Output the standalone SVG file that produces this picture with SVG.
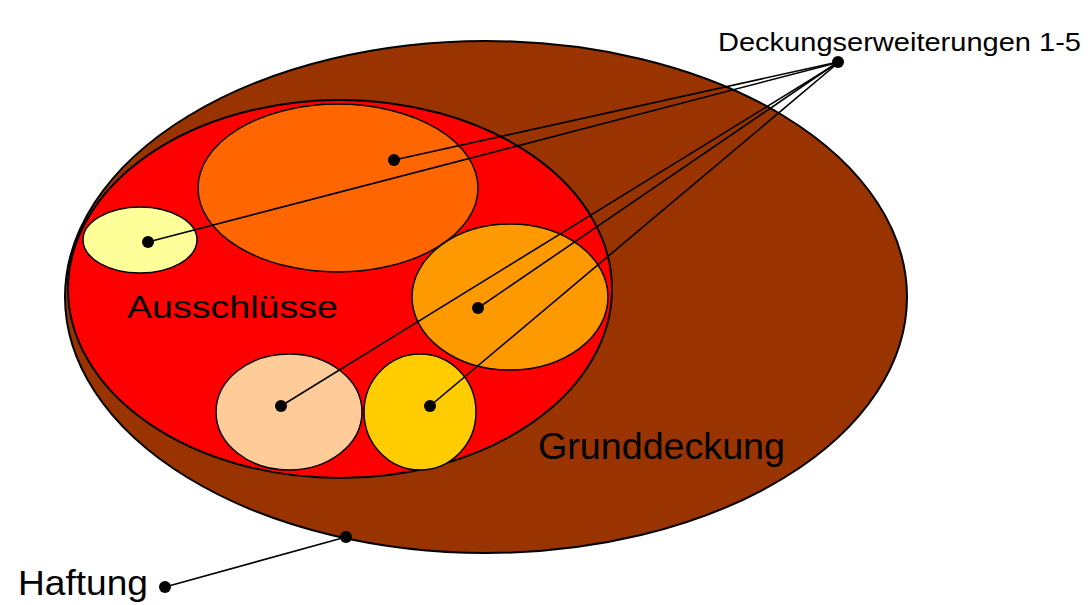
<svg xmlns="http://www.w3.org/2000/svg" width="1089" height="605" viewBox="0 0 1089 605">
<style>
.sh{stroke:#000;stroke-width:2}
.sm{stroke:#000;stroke-width:1.5}
.ln{stroke:#000;stroke-width:1.6;fill:none}
.dot{fill:#000}
text{font-family:"Liberation Sans",Arial,sans-serif;fill:#000}
</style>
<rect width="1089" height="605" fill="#fff"/>
<g id="haftung">
<ellipse cx="486" cy="297" rx="421" ry="256" fill="#993300" class="sh"/>
</g>
<g id="ausschluesse">
<ellipse cx="340" cy="289" rx="272" ry="189" fill="#ff0000" class="sh"/>
</g>
<g id="e1"><ellipse cx="338" cy="188" rx="140" ry="84" fill="#ff6600" class="sm"/></g>
<g id="e2"><ellipse cx="140" cy="240" rx="57" ry="33" fill="#ffff99" class="sm"/></g>
<g id="e3"><ellipse cx="510" cy="297" rx="98" ry="73" fill="#ff9900" class="sm"/></g>
<g id="e4"><ellipse cx="289" cy="412" rx="73" ry="58" fill="#ffcc99" class="sm"/></g>
<g id="e5"><ellipse cx="420" cy="412" rx="56" ry="58" fill="#ffcc00" class="sm"/></g>
<g id="connectors">
<line x1="838" y1="62" x2="394" y2="160" class="ln"/>
<line x1="836" y1="63" x2="148" y2="242" class="ln"/>
<line x1="838" y1="62" x2="478" y2="308" class="ln"/>
<line x1="836" y1="64" x2="281" y2="406" class="ln"/>
<line x1="838" y1="63" x2="430" y2="406" class="ln"/>
<line x1="165" y1="587" x2="346" y2="537" class="ln"/>
</g>
<g id="dots">
<circle cx="838" cy="62" r="6" class="dot"/>
<circle cx="394" cy="160" r="6" class="dot"/>
<circle cx="148" cy="242" r="6" class="dot"/>
<circle cx="478" cy="308" r="6" class="dot"/>
<circle cx="281" cy="406" r="6" class="dot"/>
<circle cx="430" cy="406" r="6" class="dot"/>
<circle cx="165" cy="587" r="6" class="dot"/>
<circle cx="346" cy="537" r="6" class="dot"/>
</g>
<g id="labels">
<text x="718" y="51" font-size="26" textLength="363" lengthAdjust="spacingAndGlyphs">Deckungserweiterungen 1-5</text>
<text x="127" y="318" font-size="32" textLength="211" lengthAdjust="spacingAndGlyphs">Ausschlüsse</text>
<text x="538" y="459" font-size="37" textLength="247" lengthAdjust="spacingAndGlyphs">Grunddeckung</text>
<text x="18" y="595" font-size="35" textLength="130" lengthAdjust="spacingAndGlyphs">Haftung</text>
</g>
</svg>
